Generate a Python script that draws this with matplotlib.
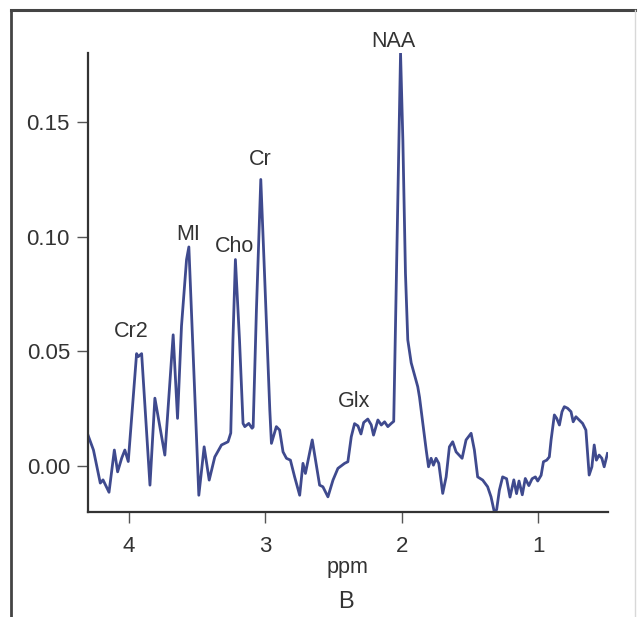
import matplotlib
matplotlib.use("Agg")
import matplotlib.pyplot as plt
from matplotlib.lines import Line2D

plt.rcParams['font.family'] = ['Liberation Sans', 'DejaVu Sans']

# Spectrum (chemical shift in ppm, signal amplitude)
ppm = [4.30, 4.26, 4.21, 4.19, 4.146, 4.107, 4.083, 4.053, 4.03, 4.005,
       3.944, 3.932, 3.907, 3.846, 3.81, 3.737, 3.676, 3.644, 3.615, 3.578,
       3.561, 3.53, 3.488, 3.449, 3.412, 3.371, 3.322, 3.274, 3.254, 3.238,
       3.22, 3.19, 3.164, 3.151, 3.122, 3.098, 3.09, 3.066, 3.034, 3.01,
       2.968, 2.956, 2.92, 2.896, 2.871, 2.846, 2.817, 2.786, 2.749, 2.725,
       2.707, 2.657, 2.603, 2.579, 2.542, 2.505, 2.469, 2.42, 2.396, 2.371,
       2.347, 2.322, 2.30, 2.28, 2.25, 2.225, 2.208, 2.176, 2.151, 2.127,
       2.103, 2.078, 2.06, 2.01, 1.993, 1.974, 1.957, 1.932, 1.884, 1.871,
       1.847, 1.822, 1.805, 1.786, 1.769, 1.75, 1.73, 1.701, 1.676, 1.652,
       1.628, 1.603, 1.559, 1.53, 1.493, 1.469, 1.445, 1.408, 1.372, 1.347,
       1.323, 1.306, 1.286, 1.262, 1.233, 1.208, 1.18, 1.16, 1.142, 1.118,
       1.096, 1.07, 1.046, 1.022, 1.005, 0.98, 0.963, 0.939, 0.92, 0.907,
       0.883, 0.866, 0.846, 0.827, 0.81, 0.786, 0.761, 0.745, 0.725, 0.701,
       0.676, 0.652, 0.628, 0.608, 0.591, 0.575, 0.555, 0.535, 0.518, 0.494]
signal = [0.0135, 0.007, -0.0074, -0.006, -0.0114, 0.007, -0.0025, 0.0035, 0.007, 0.002,
          0.049, 0.0477, 0.049, -0.0083, 0.0296, 0.0048, 0.0572, 0.0208, 0.061, 0.090,
          0.0955, 0.050, -0.0127, 0.0084, -0.0061, 0.004, 0.0092, 0.0106, 0.0144, 0.055,
          0.090, 0.055, 0.0186, 0.0172, 0.0186, 0.0165, 0.017, 0.068, 0.1249, 0.089,
          0.0245, 0.0099, 0.0172, 0.0157, 0.0062, 0.0034, 0.0026, -0.0047, -0.0127, 0.0012,
          -0.0032, 0.0114, -0.0083, -0.009, -0.0134, -0.0061, -0.001, 0.0012, 0.0019, 0.0128,
          0.0185, 0.0175, 0.014, 0.019, 0.0205, 0.018, 0.0135, 0.0201, 0.0179, 0.0193,
          0.0172, 0.0186, 0.0195, 0.180, 0.142, 0.084, 0.055, 0.045, 0.0346, 0.030,
          0.0186, 0.007, -0.0003, 0.0034, 0.0004, 0.0034, 0.0012, -0.0119, -0.0047, 0.0084,
          0.0106, 0.0062, 0.0034, 0.0114, 0.0143, 0.007, -0.0047, -0.0061, -0.009, -0.0134,
          -0.020, -0.019, -0.0105, -0.0047, -0.0055, -0.0135, -0.006, -0.012, -0.0065, -0.0125,
          -0.0054, -0.0085, -0.0055, -0.0047, -0.0065, -0.004, 0.0019, 0.0026, 0.004, 0.0114,
          0.0223, 0.0208, 0.0179, 0.0237, 0.0259, 0.0252, 0.0237, 0.0193, 0.0215, 0.0201,
          0.0186, 0.0157, -0.0039, -0.0003, 0.0092, 0.0026, 0.0048, 0.0034, -0.0003, 0.0055]

# Metabolite labels: name, ppm, height
label_names = ["NAA", "Cr", "Cho", "MI", "Cr2", "Glx"]
label_ppm = [2.06, 3.035, 3.23, 3.565, 3.985, 2.35]
label_val = [0.185, 0.1336, 0.0956, 0.101, 0.0585, 0.028]

xticks = [4, 3, 2, 1]
yticks = [0.00, 0.05, 0.10, 0.15]

fig = plt.figure(figsize=(6.38, 6.17), dpi=100)
ax = fig.add_axes([88/638, 1 - 512/617, (608 - 88)/638, (512 - 53)/617])

line_color = '#3f4a8e'
ax.plot(ppm, signal, color=line_color, lw=2.0, solid_joinstyle='round')

ax.set_xlim(4.30, 0.49)
ax.set_ylim(-0.02, 0.18)
ax.set_xticks(xticks)
ax.set_xticklabels([str(t) for t in xticks])
ax.set_yticks(yticks)
ax.set_yticklabels([f"{t:.2f}" for t in yticks])

for s in ['top', 'right']:
    ax.spines[s].set_visible(False)
for s in ['left', 'bottom']:
    ax.spines[s].set_color('#333333')
    ax.spines[s].set_linewidth(1.6)

ax.tick_params(axis='y', direction='out', length=8, width=1, color='#555555',
               labelsize=16, labelcolor='#333333', pad=5)
ax.tick_params(axis='x', direction='out', length=8, width=1, color='#555555',
               labelsize=16, labelcolor='#333333', pad=9)

for name, x, y in zip(label_names, label_ppm, label_val):
    ax.text(x, y, name, ha='center', va='center', fontsize=15.5, color='#333333',
            clip_on=False)

fig.text(348/638, 1 - 568/617, "ppm", ha='center', va='center', fontsize=15.5, color='#333333')
fig.text(346/638, 1 - 602/617, "B", ha='center', va='center', fontsize=17, color='#333333')

# Panel frame (top and left dark, right light)
fig.add_artist(Line2D([11/638, 11/638], [0, 1 - 10/617], transform=fig.transFigure,
                      color='#444444', lw=2))
fig.add_artist(Line2D([11/638, 635/638], [1 - 10/617, 1 - 10/617], transform=fig.transFigure,
                      color='#444444', lw=2.2))
fig.add_artist(Line2D([635/638, 635/638], [0, 1 - 10/617], transform=fig.transFigure,
                      color='#d8d8d8', lw=1))

fig.savefig("out.png", dpi=100, facecolor='white')
